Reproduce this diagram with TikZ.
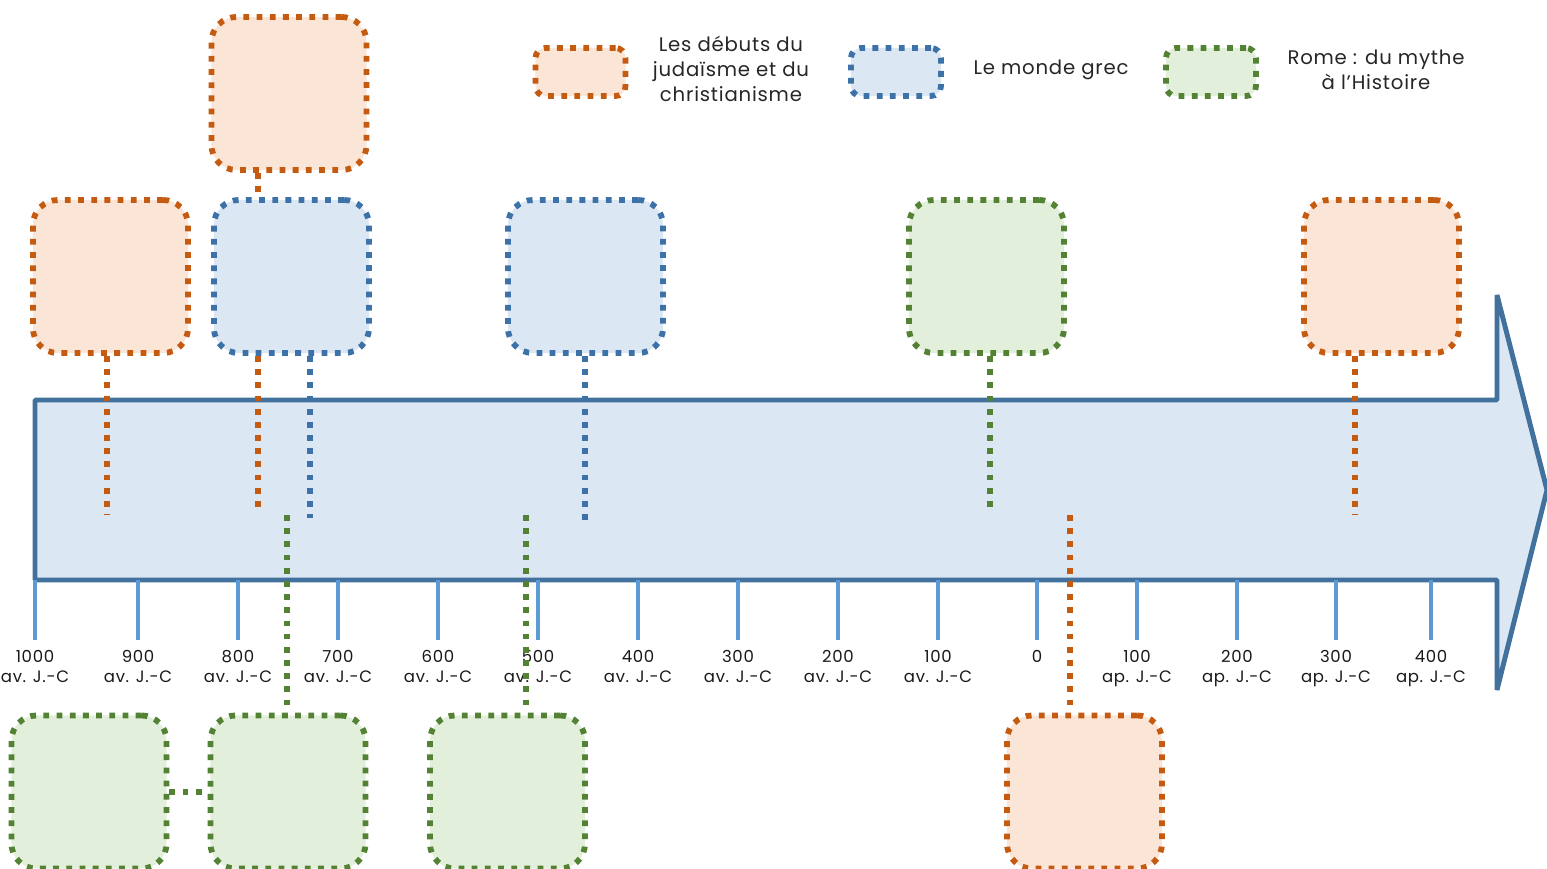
\documentclass[tikz,border=0pt]{standalone}
\usepackage{fontspec}
\setmainfont{Poppins}
\newfontfamily\keyfont[LetterSpace=4]{Poppins}
\definecolor{judline}{HTML}{C55A11}
\definecolor{judfill}{HTML}{FBE5D6}
\definecolor{grline}{HTML}{3D72A8}
\definecolor{grfill}{HTML}{DCE7F4}
\definecolor{roline}{HTML}{548235}
\definecolor{rofill}{HTML}{E2EFDA}
\definecolor{arrowline}{HTML}{41719C}
\definecolor{tickline}{HTML}{5B9BD5}
\tikzset{
  period/.style={draw, line width=1.65pt, dash pattern=on 1.65pt off 2.1pt,
    rounded corners=0.25cm, minimum width=1.55cm, minimum height=1.53cm, inner sep=0pt},
  keybox/.style={minimum width=0.9cm, minimum height=0.48cm, rounded corners=0.1cm},
  judaism/.style={period, draw=judline, fill=judfill},
  greek/.style={period, draw=grline, fill=grfill},
  rome/.style={period, draw=roline, fill=rofill},
  judlink/.style={draw=judline, line width=1.65pt, dash pattern=on 1.65pt off 2.1pt},
  grlink/.style={judlink, draw=grline},
  rolink/.style={judlink, draw=roline},
  keytext/.style={align=center, font=\keyfont\fontsize{5.6}{7.1}\selectfont, text=black!85},
  datelabel/.style={align=center, anchor=north, inner sep=0pt,
    font=\keyfont\fontsize{4.7}{5.7}\selectfont, text=black!90}
}
\begin{document}
\begin{tikzpicture}[x=0.01cm, y=-0.01cm]
  \useasboundingbox (0,0) rectangle (1547,869);
  \draw[line width=1.4pt, draw=arrowline, fill=grfill, line join=bevel] (35,400) -- (1497,400)
    -- (1497,295) -- (1547,490) -- (1497,690) -- (1497,580) -- (35,580) -- cycle;
  \foreach \x/\n/\e in {35/1000/av. J.-C, 138/900/av. J.-C, 238/800/av. J.-C, 338/700/av. J.-C,
      438/600/av. J.-C, 538/500/av. J.-C, 638/400/av. J.-C, 738/300/av. J.-C, 838/200/av. J.-C,
      938/100/av. J.-C, 1037/0/, 1137/100/ap. J.-C, 1237/200/ap. J.-C, 1336/300/ap. J.-C,
      1431/400/ap. J.-C} {
    \draw[tickline, line width=1.2pt] (\x,580) -- (\x,640);
    \node[datelabel] (d\x) at (\x,650) {\n\\\e};
  }

  % periods above the axis
  \node[judaism] (o1) at (110.5,276.5) {};
  \node[judaism] (o2) at (289,93.5) {};
  \node[greek] (b1) at (291.5,276.5) {};
  \node[greek] (b2) at (585.5,276.5) {};
  \node[rome] (g1) at (986.5,276.5) {};
  \node[judaism] (o3) at (1381.5,276.5) {};
  % periods below the axis
  \node[rome] (g2) at (89,792) {};
  \node[rome] (g3) at (288,792) {};
  \node[rome] (g4) at (507.5,792) {};
  \node[judaism] (o4) at (1084.5,792) {};

  \coordinate (o1e) at (107,515);
  \coordinate (o2e) at (258,508);
  \coordinate (b1e) at (310,518);
  \coordinate (b2e) at (585,522);
  \coordinate (g1e) at (990,508);
  \coordinate (o3e) at (1355,515);
  \coordinate (g3e) at (287,515);
  \coordinate (g4e) at (526,515);
  \coordinate (o4e) at (1070,515);

  \draw[judlink] (o1e |- o1.south) -- (o1e);
  \draw[judlink] (o2e |- o2.south) -- (o2e |- b1.north);
  \draw[judlink] (o2e |- b1.south) -- (o2e);
  \draw[grlink] (b1e |- b1.south) -- (b1e);
  \draw[grlink] (b2e |- b2.south) -- (b2e);
  \draw[rolink] (g1e |- g1.south) -- (g1e);
  \draw[judlink] (o3e |- o3.south) -- (o3e);
  \draw[rolink] (g3e) -- (g3e |- g3.north);
  \draw[rolink] (g4e) -- (g4e |- g4.north);
  \draw[judlink] (o4e) -- (o4e |- o4.north);
  \draw[rolink] (g2.east) -- (g3.west);

  % legend
  \node[judaism, keybox] (kj) at (580.5,72) {};
  \node[keytext] (kjt) at (731,69) {Les débuts du\\judaïsme et du\\christianisme};
  \node[greek, keybox] (kg) at (896,72) {};
  \node[keytext] (kgt) at (1051,70) {Le monde grec};
  \node[rome, keybox] (kr) at (1211,72) {};
  \node[keytext] (krt) at (1376,70) {Rome : du mythe\\à l’Histoire};
\end{tikzpicture}
\end{document}
